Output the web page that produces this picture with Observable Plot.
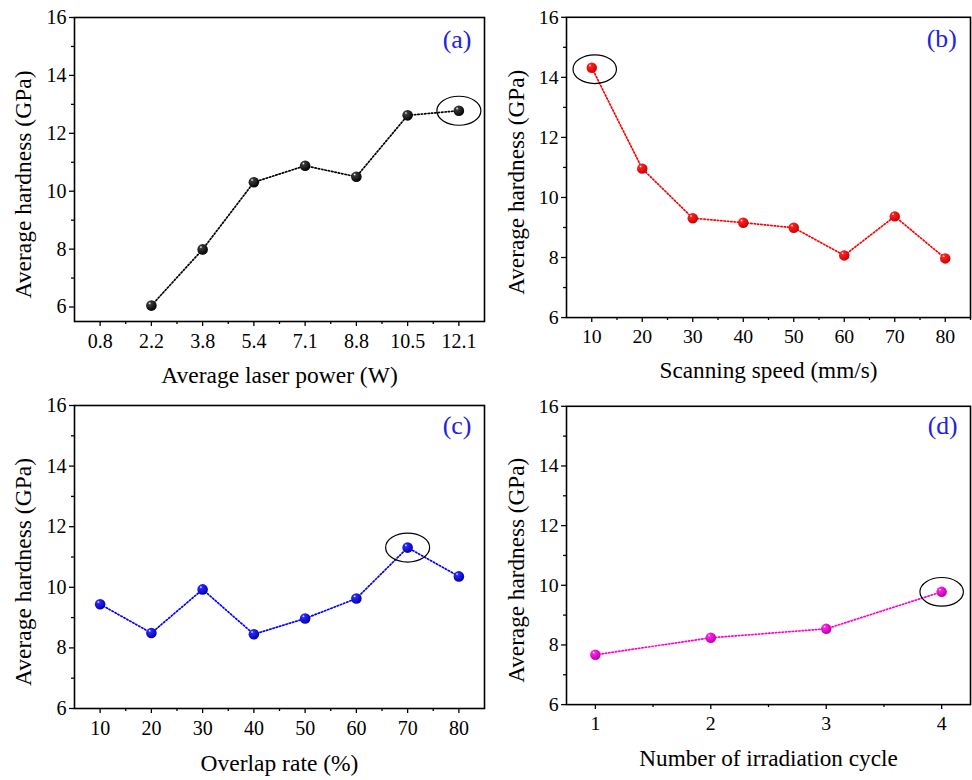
<!DOCTYPE html>
<html>
<head>
<meta charset="utf-8">
<script src="https://cdn.jsdelivr.net/npm/d3@7"></script>
<script src="https://cdn.jsdelivr.net/npm/@observablehq/plot@0.6"></script>
<style>
  html, body { margin: 0; padding: 0; background: #fff; }
  #fig { position: relative; width: 972px; height: 780px; overflow: hidden; background: #fff; }
  .panel { position: absolute; }
  .panel svg { overflow: visible; }
</style>
</head>
<body>
<div id="fig"></div>
<script>
// ---------- data ----------
const powerLabels = ["0.8", "2.2", "3.8", "5.4", "7.1", "8.8", "10.5", "12.1"];
const powerMeasured = ["2.2", "3.8", "5.4", "7.1", "8.8", "10.5", "12.1"];
const hardnessPower = [6.05, 7.99, 10.31, 10.88, 10.5, 12.62, 12.78];

const speedValues = [10, 20, 30, 40, 50, 60, 70, 80];
const hardnessSpeed = [14.32, 10.96, 9.31, 9.16, 8.99, 8.07, 9.37, 7.97];

const overlapValues = [10, 20, 30, 40, 50, 60, 70, 80];
const hardnessOverlap = [9.44, 8.49, 9.93, 8.45, 8.97, 9.63, 11.31, 10.36];

const cycleValues = [1, 2, 3, 4];
const hardnessCycle = [7.67, 8.24, 8.54, 9.78];

const hardnessTicks = [6, 8, 10, 12, 14, 16];
const hardnessMinorTicks = [7, 9, 11, 13, 15];
const panelLabels = ["(a)", "(b)", "(c)", "(d)"];
const xTitles = ["Average laser power (W)", "Scanning speed (mm/s)", "Overlap rate (%)", "Number of irradiation cycle"];
const yTitle = "Average hardness (GPa)";

// ---------- helpers ----------
const FONT = "'Liberation Serif', 'Times New Roman', serif";
const ellipseSymbol = {
  draw(ctx) {
    const rx = 22, ry = 14.5, k = 0.5523;
    ctx.moveTo(rx, 0);
    ctx.bezierCurveTo(rx, ry * k, rx * k, ry, 0, ry);
    ctx.bezierCurveTo(-rx * k, ry, -rx, ry * k, -rx, 0);
    ctx.bezierCurveTo(-rx, -ry * k, -rx * k, -ry, 0, -ry);
    ctx.bezierCurveTo(rx * k, -ry, rx, -ry * k, rx, 0);
    ctx.closePath();
  }
};

function panel(cfg) {
  const {data, xDomain, yDomain, xTicks, xMinor, xFormat, color, grad, label, xTitle,
         left, top, width, height, margin, hi, hiDx = 0, hiDy = 0, labelDx, labelDy} = cfg;
  const gid = "grad" + label.replace(/\W/g, "");
  const plot = Plot.plot({
    width, height,
    marginLeft: margin[0], marginRight: margin[1], marginTop: margin[2], marginBottom: margin[3],
    style: {fontFamily: FONT, fontSize: "20px", color: "#000", background: "transparent", overflow: "visible"},
    x: {domain: xDomain},
    y: {domain: yDomain},
    marks: [
      Plot.axisY({ticks: hardnessTicks, tickSize: 5, tickPadding: 3, fontSize: 20, label: null, strokeWidth: 1.3}),
      Plot.axisY({ticks: hardnessMinorTicks, tickSize: 3, tickFormat: () => "", label: null, strokeWidth: 1.3}),
      Plot.axisX({ticks: xTicks, tickFormat: xFormat, tickSize: 5, tickPadding: 7, fontSize: 20, label: null, strokeWidth: 1.3}),
      Plot.axisX({ticks: xMinor, tickSize: 3, tickFormat: () => "", label: null, strokeWidth: 1.3}),
      Plot.frame({stroke: "#000", strokeWidth: 1.6}),
      Plot.line(data, {x: "x", y: "y", stroke: color, strokeWidth: 1.7, strokeDasharray: "1.4,2"}),
      Plot.dot(data, {x: "x", y: "y", r: 5.3, fill: `url(#${gid})`, stroke: "none"}),
      Plot.dot([data[hi]], {x: "x", y: "y", symbol: ellipseSymbol, fill: "none", stroke: "#000", strokeWidth: 1.2, dx: hiDx, dy: hiDy}),
      Plot.text([label], {frameAnchor: "top-right", text: d => d, dx: labelDx, dy: labelDy, lineAnchor: "middle", textAnchor: "end", fontSize: 26, fill: "#2222e0", fontFamily: FONT}),
      Plot.text([xTitle], {frameAnchor: "bottom", text: d => d, dy: cfg.titleDy, lineAnchor: "middle", fontSize: 23.5, fill: "#000", fontFamily: FONT}),
      Plot.text([yTitle], {frameAnchor: "left", text: d => d, rotate: -90, dx: -51, dy: 15, lineAnchor: "middle", textAnchor: "middle", fontSize: 23.5, fill: "#000", fontFamily: FONT})
    ]
  });
  // sphere-like radial gradient for the markers
  const svg = d3.select(plot);
  const defs = svg.insert("defs", ":first-child");
  const g = defs.append("radialGradient").attr("id", gid)
    .attr("cx", "38%").attr("cy", "35%").attr("r", "68%").attr("fx", "33%").attr("fy", "28%");
  g.append("stop").attr("offset", "0%").attr("stop-color", "#ffffff");
  g.append("stop").attr("offset", "20%").attr("stop-color", grad[0]);
  g.append("stop").attr("offset", "100%").attr("stop-color", grad[1]);
  const div = document.createElement("div");
  div.className = "panel";
  div.style.left = left + "px";
  div.style.top = top + "px";
  div.appendChild(plot);
  document.getElementById("fig").appendChild(div);
}

const seqIdx = (n) => d3.range(n);

// (a)
panel({
  data: powerMeasured.map((p, i) => ({x: powerLabels.indexOf(p), y: hardnessPower[i]})),
  xDomain: [-0.5, powerLabels.length - 0.5],
  yDomain: [5.5, 16],
  xTicks: seqIdx(powerLabels.length),
  xMinor: seqIdx(powerLabels.length - 1).map(i => i + 0.5),
  xFormat: i => powerLabels[i],
  color: "#000", grad: ["#3a3a3a", "#000"],
  label: panelLabels[0], xTitle: xTitles[0],
  left: 0, top: 0, width: 486, height: 390, margin: [74, 2, 17, 69],
  hi: 6, labelDx: -13, labelDy: 22, titleDy: 54
});
// (b)
panel({
  data: speedValues.map((s, i) => ({x: s, y: hardnessSpeed[i]})),
  xDomain: [5, 85],
  yDomain: [6, 16],
  xTicks: speedValues,
  xMinor: [15, 25, 35, 45, 55, 65, 75, 85],
  xFormat: d => String(d),
  color: "#ff0000", grad: ["#ff2020", "#c80000"],
  label: panelLabels[1], xTitle: xTitles[1],
  left: 486, top: 0, width: 492, height: 390, margin: [81, 2, 17, 69],
  hi: 0, hiDx: 3, hiDy: 1.5, labelDx: -14, labelDy: 22, titleDy: 54
});
// (c)
panel({
  data: overlapValues.map((s, i) => ({x: s, y: hardnessOverlap[i]})),
  xDomain: [5, 85],
  yDomain: [6, 16],
  xTicks: overlapValues,
  xMinor: [15, 25, 35, 45, 55, 65, 75],
  xFormat: d => String(d),
  color: "#0000ff", grad: ["#2828ff", "#0000a8"],
  label: panelLabels[2], xTitle: xTitles[2],
  left: 0, top: 390, width: 486, height: 390, margin: [74, 2, 15, 72],
  hi: 6, labelDx: -13, labelDy: 20.5, titleDy: 55
});
// (d)
panel({
  data: cycleValues.map((s, i) => ({x: s, y: hardnessCycle[i]})),
  xDomain: [0.75, 4.25],
  yDomain: [6, 16],
  xTicks: cycleValues,
  xMinor: [1.5, 2.5, 3.5],
  xFormat: d => String(d),
  color: "#ff00cc", grad: ["#ff20e0", "#b800a8"],
  label: panelLabels[3], xTitle: xTitles[3],
  left: 486, top: 390, width: 492, height: 390, margin: [81, 2, 16, 72],
  hi: 3, labelDx: -13, labelDy: 20, titleDy: 55
});
</script>
</body>
</html>
